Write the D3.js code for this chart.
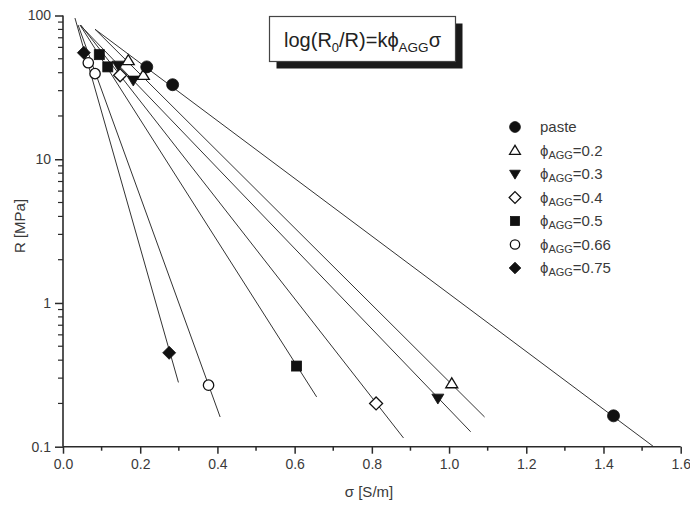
<!DOCTYPE html>
<html>
<head>
<meta charset="utf-8">
<script src="https://cdn.jsdelivr.net/npm/d3@7"></script>
<style>
  body { margin: 0; background: #fff; }
  svg { display: block; font-family: "Liberation Sans", Arial, sans-serif; }
</style>
</head>
<body>
<svg id="chart" width="690" height="505"></svg>
<script>
// Measured points: conductivity sigma [S/m] vs resistance R [MPa]
const seriesNames = ["paste", "0.2", "0.3", "0.4", "0.5", "0.66", "0.75"];
const seriesSymbols = ["circleFilled", "triangleOpen", "triangleDownFilled", "diamondOpen", "squareFilled", "circleOpen", "diamondFilled"];

const sigmaPaste = [0.217, 0.284, 1.426];
const rPaste     = [43.9, 33.0, 0.164];
const sigma02 = [0.169, 0.208, 1.007];
const r02     = [48.7, 38.4, 0.275];
const sigma03 = [0.143, 0.182, 0.971];
const r03     = [45.0, 35.4, 0.217];
const sigma04 = [0.148, 0.811];
const r04     = [38.4, 0.200];
const sigma05 = [0.094, 0.116, 0.605];
const r05     = [53.4, 43.9, 0.364];
const sigma066 = [0.0655, 0.083, 0.377];
const r066     = [46.9, 39.4, 0.268];
const sigma075 = [0.054, 0.275];
const r075     = [55.1, 0.45];

// Fitted log(R0/R) = k*phi*sigma lines: [sigmaStart, RStart, sigmaEnd, REnd]
const fitPaste = [0.083, 80.2, 1.53, 0.1];
const fit02    = [0.083, 80.2, 1.092, 0.161];
const fit03    = [0.044, 85.9, 1.056, 0.127];
const fit04    = [0.046, 85.9, 0.882, 0.115];
const fit05    = [0.044, 85.9, 0.657, 0.222];
const fit066   = [0.039, 85.9, 0.407, 0.161];
const fit075   = [0.031, 96.0, 0.299, 0.28];

const xTicks = [0.0, 0.2, 0.4, 0.6, 0.8, 1.0, 1.2, 1.4, 1.6];
const xMinorTicks = [0.1, 0.3, 0.5, 0.7, 0.9, 1.1, 1.3, 1.5];
const yTicks = [0.1, 1, 10, 100];

const sigmaData = [sigmaPaste, sigma02, sigma03, sigma04, sigma05, sigma066, sigma075];
const rData = [rPaste, r02, r03, r04, r05, r066, r075];
const fits = [fitPaste, fit02, fit03, fit04, fit05, fit066, fit075];

const svg = d3.select("#chart");
const margin = { left: 63, right: 9.3, top: 15.5, bottom: 58.3 };
const W = 690, H = 505;

const x = d3.scaleLinear().domain([0, 1.6]).range([margin.left, W - margin.right]);
const y = d3.scaleLog().domain([0.1, 100]).range([H - margin.bottom, margin.top]);

const ink = "#2a2a2a";
const textColor = "#3a3a3a";
const fontFamily = "'Liberation Sans', Arial, sans-serif";

// Fit lines
const lineGen = d3.line().x(d => x(d[0])).y(d => y(d[1]));
svg.append("g").selectAll("path").data(fits).join("path")
  .attr("d", f => lineGen([[f[0], f[1]], [f[2], f[3]]]))
  .attr("fill", "none").attr("stroke", "#333").attr("stroke-width", 1);

// Marker drawing
function drawSymbol(g, kind, cx, cy, scale) {
  const s = scale || 1;
  const filled = kind.endsWith("Filled");
  const fill = filled ? "#111" : "#fff";
  const stroke = "#111";
  const sw = filled ? 0.8 : 1.3;
  let el;
  if (kind.startsWith("circle")) {
    el = g.append("circle").attr("cx", cx).attr("cy", cy).attr("r", (filled ? 6 : 5.2) * s);
  } else if (kind.startsWith("square")) {
    const a = 5 * s;
    el = g.append("rect").attr("x", cx - a).attr("y", cy - a).attr("width", 2 * a).attr("height", 2 * a);
  } else if (kind.startsWith("triangleDown")) {
    const a = 6 * s;
    el = g.append("path").attr("d", `M${cx - a},${cy - a * 0.7}L${cx + a},${cy - a * 0.7}L${cx},${cy + a * 0.95}Z`);
  } else if (kind.startsWith("triangle")) {
    const a = 6 * s;
    el = g.append("path").attr("d", `M${cx - a},${cy + a * 0.7}L${cx + a},${cy + a * 0.7}L${cx},${cy - a * 0.95}Z`);
  } else if (kind.startsWith("diamond")) {
    const a = 6.5 * s;
    el = g.append("path").attr("d", `M${cx},${cy - a}L${cx + a},${cy}L${cx},${cy + a}L${cx - a},${cy}Z`);
  }
  el.attr("fill", fill).attr("stroke", stroke).attr("stroke-width", sw);
}

// Points (paste drawn last so it sits on top)
const order = [6, 5, 4, 3, 2, 1, 0];
const pts = svg.append("g");
order.forEach(i => {
  sigmaData[i].forEach((sx, j) => {
    drawSymbol(pts, seriesSymbols[i], x(sx), y(rData[i][j]));
  });
});

// Axes
const xAxis = d3.axisBottom(x).tickValues(xTicks).tickFormat(d3.format(".1f")).tickSize(7).tickPadding(5);
const gx = svg.append("g").attr("transform", `translate(0,${y(0.1)})`).call(xAxis);
gx.selectAll(".tick line").attr("stroke", ink).attr("stroke-width", 1.5);
gx.select(".domain").attr("stroke", ink).attr("stroke-width", 1.6)
  .attr("d", `M${x(0)},0H${x(1.6)}`);
gx.selectAll(".tick text").attr("font-size", 14).attr("fill", textColor)
  .attr("font-family", fontFamily);
svg.append("g").attr("transform", `translate(0,${y(0.1)})`)
  .selectAll("line").data(xMinorTicks).join("line")
  .attr("x1", d => x(d)).attr("x2", d => x(d)).attr("y1", 0).attr("y2", 4)
  .attr("stroke", ink).attr("stroke-width", 1.5);

const yAxis = d3.axisLeft(y).tickValues(yTicks).tickFormat(d => d >= 1 ? d3.format("d")(d) : "0.1").tickSize(8).tickPadding(4);
const gy = svg.append("g").attr("transform", `translate(${x(0)},0)`).call(yAxis);
gy.selectAll(".tick line").attr("stroke", ink).attr("stroke-width", 1.5);
gy.select(".domain").attr("stroke", ink).attr("stroke-width", 1.6)
  .attr("d", `M0,${y(0.1)}V${y(100)}`);
gy.selectAll(".tick text").attr("font-size", 14).attr("fill", textColor)
  .attr("font-family", fontFamily);
const yMinor = [];
[0.1, 1, 10].forEach(dec => { for (let m = 2; m <= 9; m++) yMinor.push(dec * m); });
svg.append("g").attr("transform", `translate(${x(0)},0)`)
  .selectAll("line").data(yMinor).join("line")
  .attr("x1", -5).attr("x2", 0).attr("y1", d => y(d)).attr("y2", d => y(d))
  .attr("stroke", ink).attr("stroke-width", 1.2);

// Axis titles
svg.append("text").attr("x", 369).attr("y", 497)
  .attr("text-anchor", "middle").attr("font-size", 15).attr("fill", textColor)
  .text("σ [S/m]");
svg.append("text").attr("transform", "translate(25,226) rotate(-90)")
  .attr("text-anchor", "middle").attr("font-size", 15).attr("fill", textColor)
  .text("R [MPa]");

// Equation box with drop shadow
const box = { x: 269.5, y: 16.5, w: 186, h: 45 };
svg.append("rect").attr("x", box.x + 7).attr("y", box.y + 7).attr("width", box.w).attr("height", box.h)
  .attr("fill", "#1a1a1a");
svg.append("rect").attr("x", box.x).attr("y", box.y).attr("width", box.w).attr("height", box.h)
  .attr("fill", "#fff").attr("stroke", "#444").attr("stroke-width", 1.2);
const eq = svg.append("text").attr("x", box.x + box.w / 2).attr("y", box.y + 30)
  .attr("text-anchor", "middle").attr("font-size", 20).attr("fill", "#222");
eq.append("tspan").text("log(R");
eq.append("tspan").attr("font-size", 13).attr("dy", 5).text("0");
eq.append("tspan").attr("dy", -5).text("/R)=kϕ");
eq.append("tspan").attr("font-size", 13.5).attr("dy", 5).text("AGG");
eq.append("tspan").attr("dy", -5).text("σ");

// Legend
const legend = svg.append("g");
const legX = 515, legTextX = 540, legY0 = 127, legDy = 23.5;
seriesNames.forEach((name, i) => {
  const cy = legY0 + i * legDy;
  drawSymbol(legend, seriesSymbols[i], legX, cy, 0.9);
  const t = legend.append("text").attr("x", legTextX).attr("y", cy + 5)
    .attr("font-size", 15).attr("fill", textColor);
  if (name === "paste") {
    t.text("paste");
  } else {
    t.append("tspan").text("ϕ");
    t.append("tspan").attr("font-size", 11).attr("dy", 3).text("AGG");
    t.append("tspan").attr("dy", -3).text("=" + name);
  }
});
</script>
</body>
</html>
